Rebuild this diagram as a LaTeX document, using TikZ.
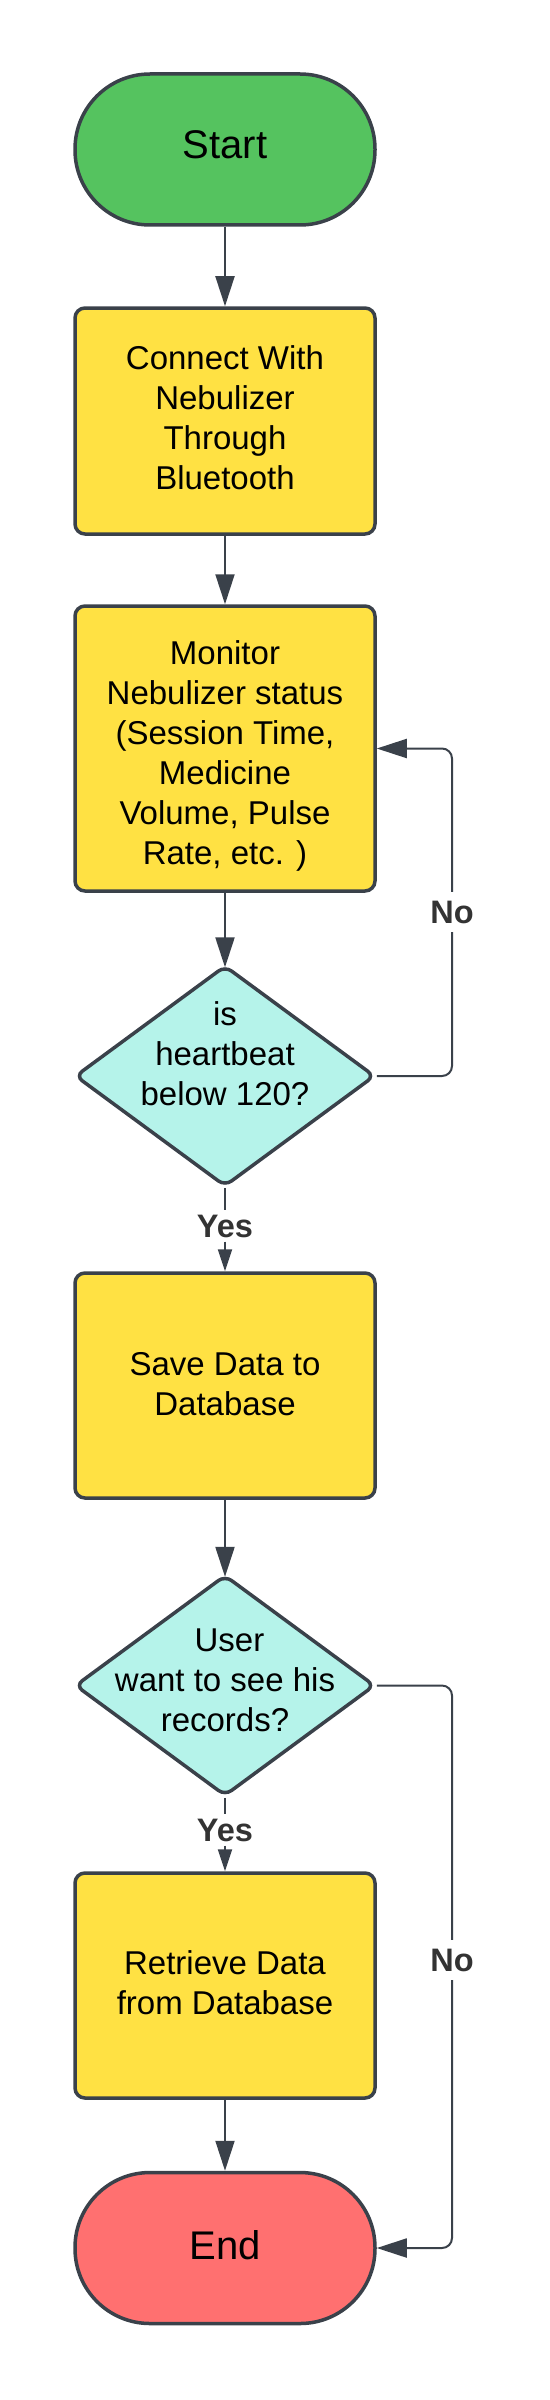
\documentclass[tikz,border=0pt]{standalone}
\usepackage{fontspec}
\setmainfont{Liberation Sans}
\usetikzlibrary{shapes.geometric,arrows.meta}
\definecolor{lc}{HTML}{3A414A}
\definecolor{gfill}{HTML}{55C35F}
\definecolor{yfill}{HTML}{FFE143}
\definecolor{cfill}{HTML}{B5F3EA}
\definecolor{rfill}{HTML}{FF7070}
\definecolor{labc}{HTML}{333333}
\begin{document}
\begin{tikzpicture}[x=1pt,y=-1pt,
  term/.style={draw=lc, line width=3.5pt, rounded corners=75pt, minimum width=300pt, minimum height=151pt, inner sep=0pt},
  termtext/.style={font=\fontsize{40}{48}\selectfont, inner sep=0pt},
  procbox/.style={draw=lc, line width=3.5pt, fill=yfill, rounded corners=10pt, minimum width=300pt, inner sep=0pt},
  decbox/.style={diamond, draw=lc, line width=3.5pt, fill=cfill, rounded corners=8pt, minimum width=300pt, minimum height=221pt, inner sep=0pt},
  boxtext/.style={align=center, font=\fontsize{33}{40}\selectfont, inner sep=0pt},
  conn/.style={draw=lc, line width=2pt, -{Triangle[length=30pt,width=19pt]}},
  sconn/.style={draw=lc, line width=2pt, -{Triangle[length=22pt,width=14pt]}},
  plain/.style={draw=lc, line width=2pt},
  lab/.style={font=\bfseries\fontsize{32.5}{38}\selectfont, text=labc, inner sep=4pt},
  nolab/.style={lab, fill=white, inner ysep=9pt, inner xsep=4pt},
]
\useasboundingbox (0,0) rectangle (549,2400);

\node[term, fill=gfill] (start) at (225,149.5) {};
\node[termtext] (startt) at (225,145) {Start};
\node[procbox, minimum height=226pt] (connect) at (225,421) {};
\node[boxtext] (connectt) at (225,418) {Connect With\\Nebulizer\\Through\\Bluetooth};
\node[procbox, minimum height=285pt] (monitor) at (225,748.5) {};
\node[boxtext] (monitort) at (225,756) {Monitor\\Nebulizer status\\(Session Time,\\Medicine\\Volume, Pulse\\Rate, etc. )};
\node[decbox] (d1) at (225,1076) {};
\node[boxtext] (d1t) at (225,1054) {is\\heartbeat\\below 120?};
\node[procbox, minimum height=225pt] (save) at (225,1385.5) {};
\node[boxtext] (savet) at (225,1384) {Save Data to\\Database};
\node[decbox] (d2) at (225,1685.5) {};
\node[boxtext] (d2t) at (225,1680) {\hspace*{9pt}User\\want to see his\\records?};
\node[procbox, minimum height=225pt] (retr) at (225,1985.5) {};
\node[boxtext] (retrt) at (225,1982.5) {Retrieve Data\\from Database};
\node[term, fill=rfill] (end) at (225,2248) {};
\node[termtext] (endt) at (225,2245) {End};

\node[lab] (yes1) at (225,1226) {Yes};
\node[lab] (yes2) at (225,1830) {Yes};

\draw[conn] (start) -- (connect);
\draw[conn] (connect) -- (monitor);
\draw[conn] (monitor) -- ([yshift=-3.6pt]d1.north);
\draw[plain] (d1.south) -- (yes1);
\draw[sconn] (yes1) -- (save);
\draw[conn] (save) -- ([yshift=-3.6pt]d2.north);
\draw[plain] (d2.south) -- (yes2);
\draw[sconn] (yes2) -- (retr);
\draw[conn] (retr) -- (end);

\coordinate (k1) at (452,748.5);
\coordinate (k2) at (452,2248);
\draw[conn, rounded corners=10pt] (d1.east) -| (k1) -- (monitor.east);
\draw[conn, rounded corners=10pt] (d2.east) -| (k2) -- (end.east);

\node[nolab] (no1) at (452,912) {No};
\node[nolab] (no2) at (452,1960) {No};
\end{tikzpicture}
\end{document}
